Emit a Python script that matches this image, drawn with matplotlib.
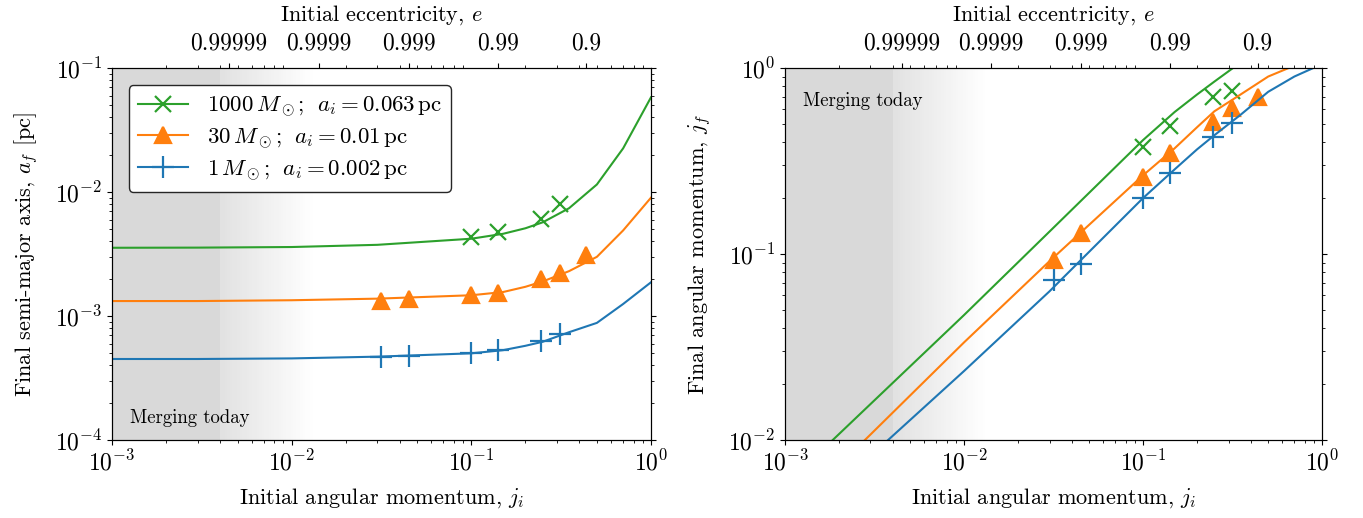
import numpy as np
import matplotlib
matplotlib.use("Agg")
import matplotlib.pyplot as plt
from matplotlib.lines import Line2D

plt.rcParams['font.family'] = 'serif'
plt.rcParams['font.serif'] = ['cmr10']
plt.rcParams['mathtext.fontset'] = 'cm'
plt.rcParams['axes.unicode_minus'] = False
plt.rcParams['axes.formatter.use_mathtext'] = True
plt.rcParams['font.size'] = 16
plt.rcParams['xtick.labelsize'] = 17
plt.rcParams['ytick.labelsize'] = 17

# ---------------- data ----------------
# curve grid in initial angular momentum
j_grid = [1e-3, 3e-3, 1e-2, 3e-2, 0.1, 0.15, 0.2, 0.25, 0.35, 0.5, 0.7, 1.0]

# final semi-major axis [pc] (left panel)
af_1000 = [3.55e-3, 3.56e-3, 3.6e-3, 3.75e-3, 4.2e-3, 4.6e-3, 5.1e-3, 5.7e-3, 7.4e-3, 1.15e-2, 2.25e-2, 5.8e-2]
af_30 = [1.32e-3, 1.32e-3, 1.34e-3, 1.38e-3, 1.47e-3, 1.56e-3, 1.72e-3, 1.9e-3, 2.3e-3, 3.0e-3, 4.9e-3, 9.0e-3]
af_1 = [4.5e-4, 4.5e-4, 4.55e-4, 4.7e-4, 5.0e-4, 5.3e-4, 5.75e-4, 6.2e-4, 7.4e-4, 8.8e-4, 1.25e-3, 1.87e-3]

# final angular momentum (right panel)
jf_1000 = [5.7e-3, 1.56e-2, 4.7e-2, 0.132, 0.41, 0.58, 0.72, 0.845, 1.07, 1.4, 1.8, 2.3]
jf_30 = [3.8e-3, 1.07e-2, 3.35e-2, 9.15e-2, 0.265, 0.37, 0.48, 0.585, 0.72, 0.90, 1.03, 1.2]
jf_1 = [2.9e-3, 8.2e-3, 2.35e-2, 6.3e-2, 0.2, 0.285, 0.365, 0.435, 0.56, 0.745, 0.9, 1.05]

# simulation points
j_sim_1000 = [0.1, 0.141, 0.245, 0.312]
j_sim_30 = [0.0316, 0.0447, 0.1, 0.141, 0.245, 0.312, 0.436]
j_sim_1 = [0.0316, 0.0447, 0.1, 0.141, 0.245, 0.312]

af_sim_1000 = [4.3e-3, 4.8e-3, 6.1e-3, 8.0e-3]
af_sim_30 = [1.33e-3, 1.36e-3, 1.48e-3, 1.52e-3, 1.98e-3, 2.23e-3, 3.1e-3]
af_sim_1 = [4.7e-4, 4.75e-4, 5.06e-4, 5.3e-4, 6.3e-4, 7.2e-4]

jf_sim_1000 = [0.375, 0.49, 0.695, 0.755]
jf_sim_30 = [0.093, 0.129, 0.26, 0.348, 0.515, 0.607, 0.70]
jf_sim_1 = [0.0725, 0.0883, 0.2, 0.274, 0.424, 0.504]

labels = [r'$1000\,M_\odot;\;\, a_i = 0.063\,\mathrm{pc}$',
          r'$30\,M_\odot;\;\, a_i = 0.01\,\mathrm{pc}$',
          r'$1\,M_\odot;\;\, a_i = 0.002\,\mathrm{pc}$']

ecc_ticks = [0.99999, 0.9999, 0.999, 0.99, 0.9]
ecc_labels = ['0.99999', '0.9999', '0.999', '0.99', '0.9']

# shaded "merging today" region
j_merge_solid = 4e-3
j_merge_fade = 1.35e-2

colors = ['C2', 'C1', 'C0']
markers = ['x', '^', '+']
msizes = [12, 12, 16]


def shade(ax):
    ax.axvspan(1e-3, j_merge_solid, color='0.85', lw=0, zorder=0)
    edges = np.logspace(np.log10(j_merge_solid), np.log10(j_merge_fade), 40)
    for k in range(len(edges) - 1):
        g = 0.885 + 0.115 * k / (len(edges) - 2)
        ax.axvspan(edges[k], edges[k + 1], color=str(min(g, 1.0)), lw=0, zorder=0)


def top_axis(ax):
    ax2 = ax.twiny()
    ax2.set_xscale('log')
    ax2.set_xlim(ax.get_xlim())
    ax2.set_xticks([np.sqrt(1 - e ** 2) for e in ecc_ticks])
    ax2.set_xticklabels(ecc_labels)
    ax2.xaxis.set_minor_formatter(plt.NullFormatter())
    ax2.tick_params(axis='x', pad=6)
    ax2.set_xlabel(r'Initial eccentricity, $e$', labelpad=9)
    return ax2


fig = plt.figure(figsize=(13.63, 5.18), dpi=100)
axL = fig.add_axes([0.0822, 0.1506, 0.3954, 0.7181])
axR = fig.add_axes([0.5760, 0.1506, 0.3940, 0.7181])

# ---------------- left panel ----------------
shade(axL)
for yl, js, ys, c, m, ms in zip([af_1000, af_30, af_1],
                                [j_sim_1000, j_sim_30, j_sim_1],
                                [af_sim_1000, af_sim_30, af_sim_1],
                                colors, markers, msizes):
    axL.plot(j_grid, yl, color=c, lw=1.5)
    axL.plot(js, ys, ls='none', marker=m, color=c, ms=ms, mew=1.6)
axL.set_xscale('log')
axL.set_yscale('log')
axL.set_xlim(1e-3, 1)
axL.set_ylim(1e-4, 1e-1)
axL.set_xlabel(r'Initial angular momentum, $j_i$', labelpad=8)
axL.set_ylabel(r'Final semi-major axis, $a_f$ [pc]', labelpad=11)
axL.tick_params(which='both', right=True)
axL.text(0.033, 0.045, 'Merging today', transform=axL.transAxes, fontsize=13.5)

handles = [Line2D([], [], color=c, marker=m, ms=ms, mew=1.6, lw=1.5)
           for c, m, ms in zip(colors, markers, msizes)]
leg = axL.legend(handles, labels, loc='upper left', bbox_to_anchor=(0.01, 0.985),
                 fontsize=16.5, framealpha=1.0, edgecolor='0.15', fancybox=True,
                 handlelength=2.2, borderpad=0.4, labelspacing=0.3)
top_axis(axL)

# ---------------- right panel ----------------
shade(axR)
for yl, js, ys, c, m, ms in zip([jf_1000, jf_30, jf_1],
                                [j_sim_1000, j_sim_30, j_sim_1],
                                [jf_sim_1000, jf_sim_30, jf_sim_1],
                                colors, markers, msizes):
    axR.plot(j_grid, yl, color=c, lw=1.5)
    axR.plot(js, ys, ls='none', marker=m, color=c, ms=ms, mew=1.6)
axR.set_xscale('log')
axR.set_yscale('log')
axR.set_xlim(1e-3, 1)
axR.set_ylim(1e-2, 1)
axR.set_xlabel(r'Initial angular momentum, $j_i$', labelpad=8)
axR.set_ylabel(r'Final angular momentum, $j_f$', labelpad=11)
axR.tick_params(which='both', right=True)
axR.text(0.033, 0.935, 'Merging today', transform=axR.transAxes, fontsize=13.5, va='top')
top_axis(axR)

fig.savefig('out.png', dpi=100)
